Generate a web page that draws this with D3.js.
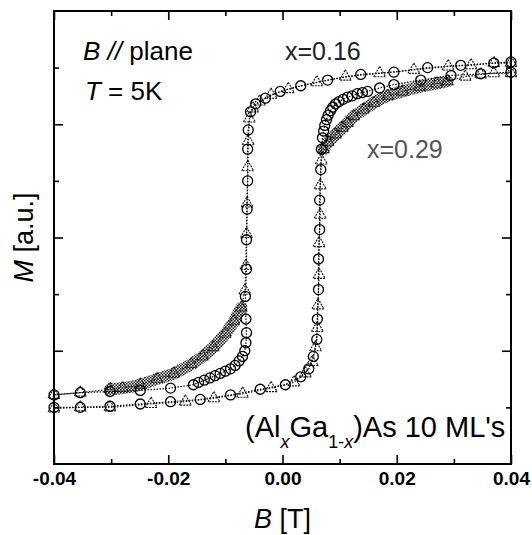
<!DOCTYPE html>
<html>
<head>
<meta charset="utf-8">
<script src="https://cdn.jsdelivr.net/npm/d3@7"></script>
<style>
  body { margin: 0; background: #fff; }
  text { font-family: "Liberation Sans", Arial, sans-serif; }
</style>
</head>
<body>
<div id="chart"></div>
<script>
// tick values
const bMajor = [-0.04, -0.02, 0, 0.02, 0.04]
const bMinor = [-0.03, -0.01, 0.01, 0.03]
const mMajor = [-1, 0, 1]
const mMinor = [-1.5, -0.5, 0.5, 1.5]

// x = 0.16 (circles), [B, M]
const x016Up = [[-0.0400,-1.50],[-0.0354,-1.50],[-0.0302,-1.49],[-0.0249,-1.47],[-0.0196,-1.45],[-0.0144,-1.43],
  [-0.0091,-1.39],[-0.0039,-1.34],[0.0005,-1.30],[0.0032,-1.23],[0.0046,-1.16],[0.0054,-1.05],[0.0060,-0.90],
  [0.0061,-0.72],[0.0063,-0.46],[0.0063,-0.19],[0.0065,0.07],[0.0065,0.33],[0.0067,0.60],[0.0068,0.78],
  [0.0070,0.88],[0.0072,0.94],[0.0074,0.99],[0.0077,1.04],[0.0080,1.08],[0.0084,1.12],[0.0088,1.15],
  [0.0093,1.18],[0.0099,1.20],[0.0106,1.22],[0.0114,1.24],[0.0122,1.25],[0.0131,1.27],[0.0140,1.28],
  [0.0149,1.29],[0.0170,1.32],[0.0195,1.35],[0.0242,1.39],[0.0295,1.43],[0.0347,1.445],[0.0400,1.46]]
const x016Down = [[0.0400,1.55],[0.0370,1.54],[0.0312,1.52],[0.0254,1.50],[0.0195,1.46],[0.0137,1.44],
  [0.0079,1.39],[0.0032,1.34],[-0.0004,1.29],[-0.0030,1.23],[-0.0047,1.18],[-0.0056,1.11],[-0.0060,0.95],
  [-0.0061,0.78],[-0.0061,0.50],[-0.0062,0.25],[-0.0063,-0.02],[-0.0063,-0.28],[-0.0065,-0.52],[-0.0064,-0.72],
  [-0.0063,-0.84],[-0.0064,-0.93],[-0.0066,-1.00],[-0.0070,-1.05],[-0.0076,-1.09],[-0.0083,-1.13],
  [-0.0091,-1.16],[-0.0100,-1.18],[-0.0109,-1.20],[-0.0118,-1.22],[-0.0127,-1.24],[-0.0137,-1.26],
  [-0.0147,-1.28],[-0.0156,-1.30],[-0.0196,-1.33],[-0.0249,-1.35],[-0.0302,-1.36],[-0.0354,-1.37],[-0.0400,-1.39]]

// x = 0.29 (triangles), [B, M]
const x029Up = [[-0.0400,-1.51],[-0.0354,-1.50],[-0.0302,-1.50],[-0.0230,-1.47],[-0.0170,-1.45],[-0.0120,-1.42],
  [-0.0070,-1.38],[-0.0020,-1.33],[0.0020,-1.28],[0.0040,-1.20],[0.0052,-1.10],[0.0058,-0.97],[0.0061,-0.80],
  [0.0062,-0.60],[0.0064,-0.33],[0.0064,-0.05],[0.0066,0.20],[0.0066,0.46],[0.0068,0.68],[0.0072,0.78],
  [0.0080,0.84],[0.0093,0.91],[0.0105,0.97],[0.0114,1.01],[0.0125,1.07],[0.0142,1.13],[0.0160,1.19],
  [0.0184,1.25],[0.0210,1.29],[0.0240,1.33],[0.0270,1.36],[0.0289,1.38],[0.0320,1.42],[0.0347,1.44],
  [0.0370,1.45],[0.0400,1.45]]
const x029Down = [[0.0400,1.54],[0.0370,1.54],[0.0330,1.52],[0.0290,1.51],[0.0230,1.48],[0.0170,1.45],
  [0.0110,1.42],[0.0060,1.37],[0.0010,1.31],[-0.0020,1.26],[-0.0040,1.20],[-0.0052,1.14],[-0.0058,1.05],
  [-0.0060,0.85],[-0.0061,0.62],[-0.0062,0.30],[-0.0063,0.03],[-0.0064,-0.25],[-0.0066,-0.47],[-0.0072,-0.62],
  [-0.0085,-0.74],[-0.0100,-0.85],[-0.0121,-0.97],[-0.0140,-1.05],[-0.0160,-1.12],[-0.0190,-1.20],
  [-0.0220,-1.25],[-0.0249,-1.30],[-0.0280,-1.33],[-0.0302,-1.34],[-0.0354,-1.37],[-0.0400,-1.39]]
// field ranges where the x = 0.29 points are so dense they form a grey band
const bandUp = [0.0070, 0.0295]
const bandDown = [-0.0305, -0.0070]

const margin = ({top: 11, right: 21, bottom: 71, left: 54})
const width = 532 - margin.left - margin.right
const height = 535 - margin.top - margin.bottom

const svg = d3.select('#chart').append('svg')
    .attr('width', 532)
    .attr('height', 535)

const defs = svg.append('defs')
const pat = defs.append('pattern')
    .attr('id', 'dots')
    .attr('width', 3).attr('height', 3)
    .attr('patternUnits', 'userSpaceOnUse')
pat.append('rect').attr('width', 3).attr('height', 3).attr('fill', '#fff')
pat.append('rect').attr('x', 0).attr('y', 0).attr('width', 1.5).attr('height', 1.5).attr('fill', '#000')
pat.append('rect').attr('x', 1.5).attr('y', 1.5).attr('width', 1.5).attr('height', 1.5).attr('fill', '#111')

const g = svg.append('g')
    .attr('transform', `translate(${margin.left},${margin.top})`)

const x = d3.scaleLinear().domain([-0.04, 0.04]).range([0, width])
const y = d3.scaleLinear().domain([-2, 2]).range([height, 0])

// axes, ticks pointing inward
function addAxis(axisFn, scale, vals, size, tr, labels) {
    const ax = axisFn(scale).tickValues(vals).tickSize(-size)
        .tickFormat(labels ? (d => d.toFixed(2)) : '')
        .tickPadding(8)
    const a = g.append('g').attr('transform', tr).call(ax)
    a.select('.domain').remove()
    a.selectAll('line').attr('stroke', '#000').attr('stroke-width', 1.6)
    a.selectAll('text')
        .attr('font-size', 19).attr('font-weight', 'bold')
        .attr('font-family', '"Liberation Sans", Arial, sans-serif')
        .attr('fill', '#000')
    return a
}
addAxis(d3.axisBottom, x, bMajor, 9, `translate(0,${height})`, true)
addAxis(d3.axisBottom, x, bMinor, 5, `translate(0,${height})`, false)
addAxis(d3.axisTop, x, bMajor, 9, 'translate(0,0)', false)
addAxis(d3.axisTop, x, bMinor, 5, 'translate(0,0)', false)
addAxis(d3.axisLeft, y, mMajor, 9, 'translate(0,0)', false)
addAxis(d3.axisLeft, y, mMinor, 5, 'translate(0,0)', false)
addAxis(d3.axisRight, y, mMajor, 9, `translate(${width},0)`, false)
addAxis(d3.axisRight, y, mMinor, 5, `translate(${width},0)`, false)

const line = d3.line().x(d => x(d[0])).y(d => y(d[1])).curve(d3.curveLinear)
const bandLine = d3.line().x(d => x(d[0])).y(d => y(d[1])).curve(d3.curveCatmullRom)

// grey band of dense x = 0.29 points
const inRange = r => d => d[0] >= r[0] && d[0] <= r[1]
;[x029Up.filter(inRange(bandUp)), x029Down.filter(inRange(bandDown))].forEach(seg => {
    g.append('path')
        .datum(seg)
        .attr('d', bandLine)
        .attr('fill', 'none')
        .attr('stroke', 'url(#dots)')
        .attr('stroke-width', 12)
        .attr('stroke-linecap', 'round')
})

// dotted connecting lines
;[x029Up, x029Down].forEach(s => {
    g.append('path').datum(s).attr('d', line)
        .attr('fill', 'none').attr('stroke', '#222')
        .attr('stroke-width', 1.2).attr('stroke-dasharray', '1.5,1.5')
})
;[x016Up, x016Down].forEach(s => {
    g.append('path').datum(s).attr('d', line)
        .attr('fill', 'none').attr('stroke', '#000')
        .attr('stroke-width', 1.2).attr('stroke-dasharray', '1.5,1.5')
})

// markers
const tri = d3.symbol().type(d3.symbolTriangle).size(62)
g.append('g').selectAll('path')
    .data(x029Up.concat(x029Down))
    .join('path')
    .attr('d', tri)
    .attr('transform', d => `translate(${x(d[0])},${y(d[1])})`)
    .attr('fill', 'none')
    .attr('stroke', '#111')
    .attr('stroke-width', 1.1)
    .attr('stroke-dasharray', '2,1')

g.append('g').selectAll('circle')
    .data(x016Up.concat(x016Down))
    .join('circle')
    .attr('cx', d => x(d[0]))
    .attr('cy', d => y(d[1]))
    .attr('r', 5)
    .attr('fill', 'none')
    .attr('stroke', '#000')
    .attr('stroke-width', 1.3)

// frame
g.append('rect')
    .attr('width', width).attr('height', height)
    .attr('fill', 'none').attr('stroke', '#000').attr('stroke-width', 2)

// axis titles
svg.append('text')
    .attr('x', margin.left + width / 2).attr('y', 528)
    .attr('text-anchor', 'middle').attr('font-size', 27)
    .html('<tspan font-style="italic">B</tspan> [T]')

svg.append('text')
    .attr('transform', `translate(33,${margin.top + height / 2}) rotate(-90)`)
    .attr('text-anchor', 'middle').attr('font-size', 27)
    .html('<tspan font-style="italic">M</tspan> [a.u.]')

// annotations
svg.append('text').attr('x', 83).attr('y', 60).attr('font-size', 26)
    .html('<tspan font-style="italic">B //</tspan> plane')
svg.append('text').attr('x', 85).attr('y', 100).attr('font-size', 26)
    .html('<tspan font-style="italic">T</tspan> = 5K')
svg.append('text').attr('x', 285).attr('y', 60).attr('font-size', 25)
    .attr('fill', '#222').text('x=0.16')
svg.append('text').attr('x', 367).attr('y', 158).attr('font-size', 25)
    .attr('fill', '#555').text('x=0.29')

const comp = svg.append('text').attr('x', 245).attr('y', 437).attr('font-size', 29)
comp.append('tspan').text('(Al')
comp.append('tspan').attr('font-size', 18).attr('font-style', 'italic').attr('dy', 11).text('x')
comp.append('tspan').attr('dy', -11).text('Ga')
comp.append('tspan').attr('font-size', 18).attr('dy', 11).text('1-')
comp.append('tspan').attr('font-size', 18).attr('font-style', 'italic').text('x')
comp.append('tspan').attr('dy', -11).text(")As 10 ML's")
</script>
</body>
</html>
